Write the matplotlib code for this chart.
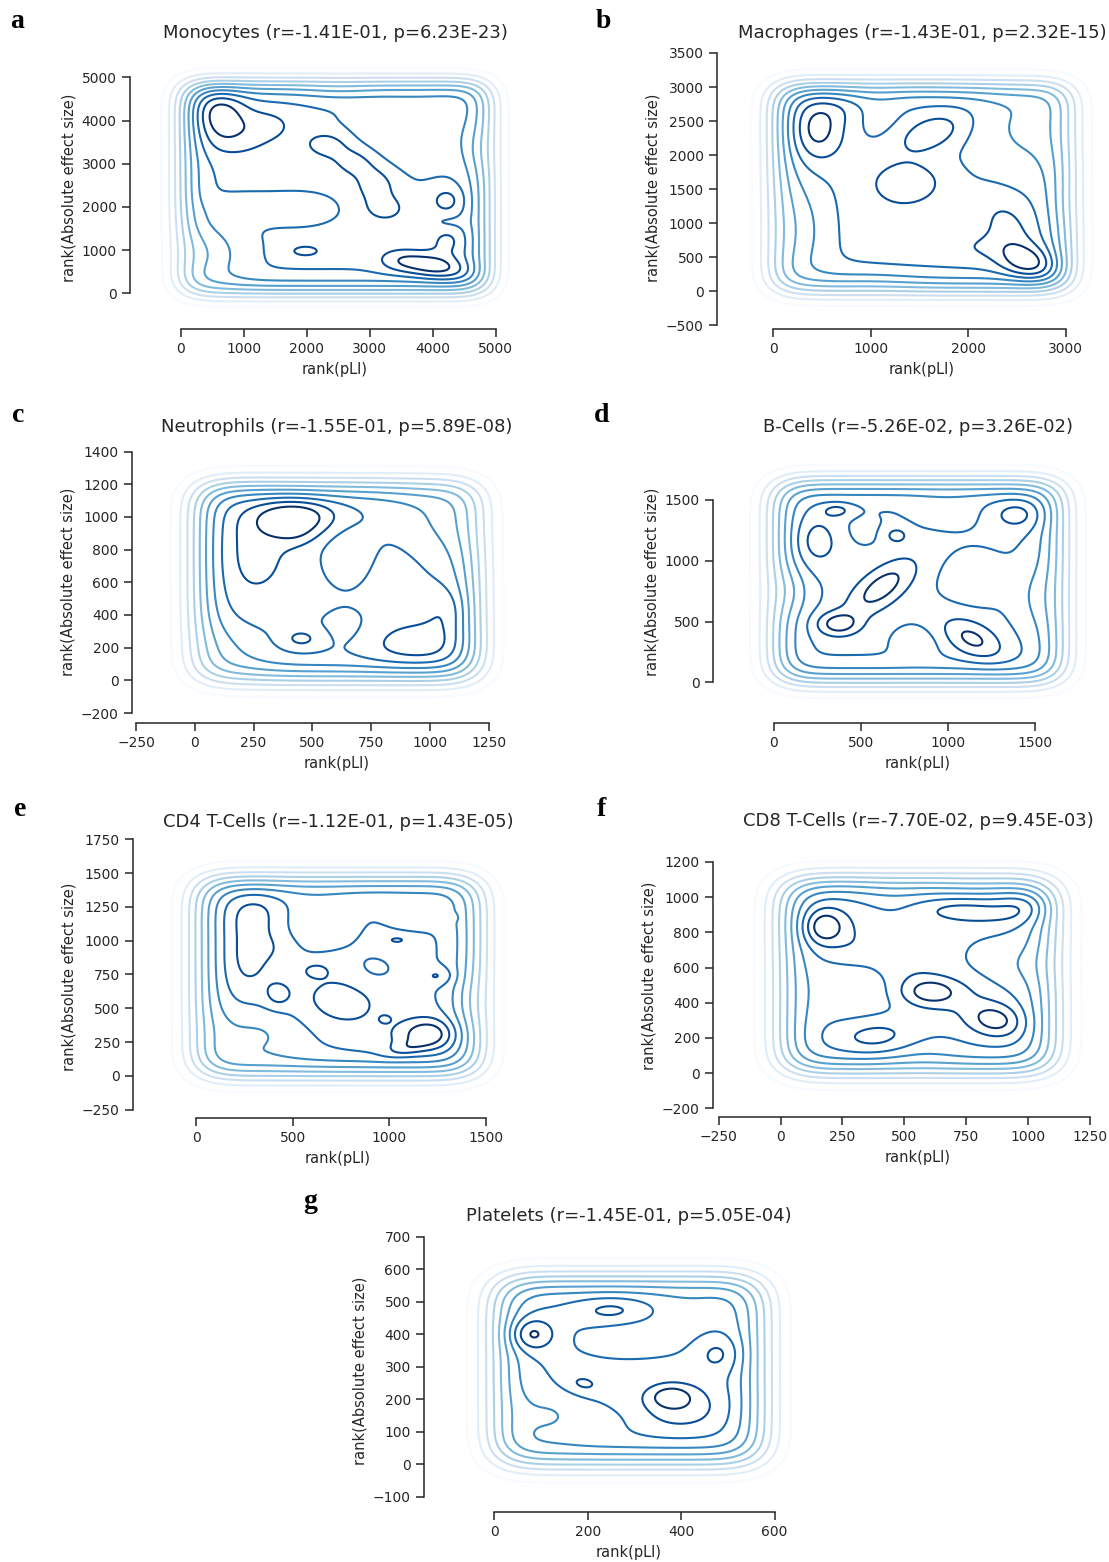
import math
import numpy as np
import matplotlib
matplotlib.use("Agg")
import matplotlib.pyplot as plt

# ---------------------------------------------------------------------------
# Panel metadata
# ---------------------------------------------------------------------------
PANEL_LETTERS = ["a", "b", "c", "d", "e", "f", "g"]
CELL_TYPES = ["Monocytes", "Macrophages", "Neutrophils", "B-Cells",
              "CD4 T-Cells", "CD8 T-Cells", "Platelets"]
R_VALUES = ["-1.41E-01", "-1.43E-01", "-1.55E-01", "-5.26E-02",
            "-1.12E-01", "-7.70E-02", "-1.45E-01"]
P_VALUES = ["6.23E-23", "2.32E-15", "5.89E-08", "3.26E-02",
            "1.43E-05", "9.45E-03", "5.05E-04"]

# number of ranked genes and per-axis KDE bandwidths
N_GENES = [4900, 3050, 1210, 1660, 1470, 1110, 577]
BW_X = [269, 192, 89, 116, 109, 91, 50]
BW_Y = [275, 184, 87, 111, 104, 83, 49]

X_TICKS = [
    [0, 1000, 2000, 3000, 4000, 5000],
    [0, 1000, 2000, 3000],
    [-250, 0, 250, 500, 750, 1000, 1250],
    [0, 500, 1000, 1500],
    [0, 500, 1000, 1500],
    [-250, 0, 250, 500, 750, 1000, 1250],
    [0, 200, 400, 600],
]
Y_TICKS = [
    [0, 1000, 2000, 3000, 4000, 5000],
    [-500, 0, 500, 1000, 1500, 2000, 2500, 3000, 3500],
    [-200, 0, 200, 400, 600, 800, 1000, 1200, 1400],
    [0, 500, 1000, 1500],
    [-250, 0, 250, 500, 750, 1000, 1250, 1500, 1750],
    [-200, 0, 200, 400, 600, 800, 1000, 1200],
    [-100, 0, 100, 200, 300, 400, 500, 600, 700],
]

# Local density modes / troughs of each joint rank distribution:
# (rank pLI, rank effect, spread x, spread y, angle deg, relative amplitude)
MONO_MODES = [
    (600, 4150, 300, 420, 0, 0.30), (1350, 3900, 350, 280, 0, 0.13),
    (900, 3500, 400, 300, 0, 0.10), (4000, 630, 420, 200, -15, 0.30),
    (4250, 1200, 220, 250, 0, 0.13), (3450, 750, 250, 200, 0, 0.10),
    (2300, 3450, 250, 220, 0, 0.16), (2750, 3050, 280, 250, -40, 0.16),
    (3100, 2500, 240, 300, 0, 0.16), (3250, 1950, 240, 220, 0, 0.14),
    (1980, 980, 220, 120, 0, 0.14), (4230, 2150, 190, 230, 0, 0.15),
    (4250, 1650, 200, 120, 0, -0.06),
    (3700, 3700, 700, 600, 0, -0.12), (350, 900, 450, 550, 0, -0.22),
    (1100, 1950, 450, 220, 0, -0.10), (1900, 1950, 350, 220, 0, -0.10),
    (4700, 3300, 200, 400, 0, -0.08), (2500, 4700, 400, 200, 0, -0.06),
]
MACRO_MODES = [
    (440, 2380, 200, 330, 0, 0.28), (700, 2700, 200, 180, 0, 0.06),
    (1630, 2330, 280, 170, 35, 0.19), (1380, 1600, 230, 200, 0, 0.18),
    (1200, 1100, 400, 600, 0, 0.05), (2630, 420, 230, 170, -30, 0.30),
    (2400, 950, 180, 330, 15, 0.14), (2100, 650, 250, 150, 0, 0.08),
    (250, 900, 250, 600, 0, -0.17), (2650, 2400, 450, 550, 0, -0.16),
    (1050, 2600, 200, 300, 0, -0.07), (1000, 150, 400, 200, 0, -0.08),
    (3000, 1300, 150, 300, 0, -0.06),
]
NEUTRO_MODES = [
    (410, 990, 110, 85, 0, 0.28), (430, 890, 60, 50, 0, 0.05),
    (250, 780, 130, 240, 0, 0.14), (500, 1020, 120, 80, 0, 0.08),
    (950, 220, 160, 100, 0, 0.18), (1080, 430, 70, 100, 0, 0.12),
    (455, 255, 60, 45, 0, 0.14), (850, 700, 100, 150, 0, 0.04),
    (650, 780, 80, 130, 0, -0.10), (1080, 1000, 180, 200, 0, -0.15),
    (100, 150, 150, 150, 0, -0.15), (650, 300, 100, 100, 0, -0.06),
]
BCELL_MODES = [
    (365, 1415, 60, 40, 0, 0.15), (240, 1160, 100, 150, 0, 0.17),
    (705, 1210, 50, 50, 0, 0.15), (1405, 1385, 110, 90, 0, 0.17),
    (620, 780, 200, 90, 52, 0.28), (370, 480, 90, 70, 0, 0.26),
    (1140, 360, 150, 90, -45, 0.25), (80, 750, 100, 150, 0, -0.14),
    (1150, 850, 130, 150, 0, -0.10), (830, 330, 100, 100, 0, -0.08),
    (1000, 1400, 150, 100, 0, -0.08), (500, 1250, 100, 100, 0, -0.05),
    (1500, 700, 100, 200, 0, -0.10),
]
CD4_MODES = [
    (1210, 310, 100, 80, 0, 0.28), (1080, 200, 80, 40, 20, 0.12),
    (1100, 280, 180, 120, 0, 0.06), (300, 1200, 120, 150, 0, 0.15),
    (260, 850, 100, 180, 0, 0.13), (400, 950, 80, 80, 0, 0.05),
    (750, 560, 160, 150, 0, 0.16), (425, 600, 50, 70, 0, 0.14),
    (1040, 1005, 50, 25, 0, 0.12), (1255, 740, 60, 45, 0, 0.13),
    (1325, 1172, 20, 20, 0, 0.10), (979, 419, 20, 20, 0, 0.10),
    (620, 780, 50, 40, 0, 0.12), (600, 1150, 150, 150, 0, -0.10),
    (300, 300, 200, 150, 0, -0.15), (1150, 1200, 120, 80, 0, -0.08),
    (900, 750, 100, 100, 0, -0.06), (1420, 550, 80, 150, 0, -0.10),
]
CD8_MODES = [
    (170, 830, 60, 70, 0, 0.28), (200, 850, 150, 150, 0, 0.08),
    (300, 700, 70, 80, 0, 0.06), (600, 462, 85, 60, 0, 0.27),
    (870, 300, 80, 65, -20, 0.27), (390, 205, 120, 75, 0, 0.18),
    (700, 930, 120, 50, 0, 0.12), (1000, 950, 80, 60, 0, 0.14),
    (850, 900, 120, 50, 0, 0.09), (500, 620, 100, 100, 0, 0.08),
    (750, 420, 100, 100, 0, 0.08), (300, 480, 130, 150, 0, -0.12),
    (950, 620, 130, 100, 0, -0.10), (550, 130, 120, 80, 0, -0.08),
    (800, 1080, 150, 50, 0, -0.06), (450, 1000, 100, 100, 0, -0.05),
]
PLT_MODES = [
    (76, 400, 35, 35, 0, 0.30), (250, 476, 55, 30, 0, 0.15),
    (483, 340, 35, 40, 0, 0.15), (190, 248, 30, 22, -20, 0.13),
    (378, 208, 28, 22, 0, 0.22), (400, 170, 60, 50, 0, 0.12),
    (380, 200, 100, 60, 0, 0.06), (300, 390, 80, 40, 0, -0.10),
    (120, 150, 60, 60, 0, -0.14), (420, 470, 60, 50, 0, -0.08),
    (250, 140, 50, 40, 0, -0.05),
]
MODES = [MONO_MODES, MACRO_MODES, NEUTRO_MODES, BCELL_MODES,
         CD4_MODES, CD8_MODES, PLT_MODES]

# ---------------------------------------------------------------------------
# Figure layout (pixels): lower-left corner of each axes box, and letter spots
# ---------------------------------------------------------------------------
W, H, DPI = 1109, 1562, 100
AX_W, AX_H = 410, 283
AX_LEFT = [130, 717, 132, 713, 133, 713, 424]
AX_BOTTOM = [329, 329, 723, 723, 1118, 1117, 1512]
LETTER_XY = [(10, 28), (596, 28), (12, 422), (594, 422),
             (14, 816), (597, 816), (303, 1208)]

N_LEVELS = 10
LEVEL_STEP = 0.12
PLATEAU = 0.98

erf = np.vectorize(math.erf)


def edge_profile(t, n, h):
    """Uniform rank density on [0, n] smoothed by a Gaussian kernel."""
    return 0.5 * (erf((n - t) / (math.sqrt(2) * h)) + erf(t / (math.sqrt(2) * h)))


def mode_field(X, Y, modes):
    Z = np.zeros_like(X)
    for cx, cy, sx, sy, ang, amp in modes:
        a = np.deg2rad(ang)
        dx, dy = X - cx, Y - cy
        u = dx * np.cos(a) + dy * np.sin(a)
        v = -dx * np.sin(a) + dy * np.cos(a)
        Z += amp * np.exp(-0.5 * ((u / sx) ** 2 + (v / sy) ** 2))
    return Z


plt.rcParams.update({
    "font.family": ["DejaVu Sans"],
    "axes.edgecolor": ".15",
    "axes.linewidth": 1.1,
    "xtick.color": ".15",
    "ytick.color": ".15",
    "xtick.labelcolor": ".15",
    "ytick.labelcolor": ".15",
    "xtick.major.size": 6,
    "ytick.major.size": 6,
    "xtick.major.width": 1.1,
    "ytick.major.width": 1.1,
    "xtick.labelsize": 10,
    "ytick.labelsize": 10,
    "axes.labelsize": 10.5,
    "axes.labelcolor": ".15",
    "axes.titlesize": 13,
    "text.color": ".15",
})

fig = plt.figure(figsize=(W / DPI, H / DPI), dpi=DPI)
levels = LEVEL_STEP * np.arange(1, N_LEVELS + 1)

for i in range(7):
    n, hx, hy = N_GENES[i], BW_X[i], BW_Y[i]
    xlim = (-3 * hx, n + 3 * hx)
    ylim = (-3 * hy, n + 3 * hy)

    left = AX_LEFT[i] / W
    bottom = 1 - AX_BOTTOM[i] / H
    ax = fig.add_axes([left, bottom, AX_W / W, AX_H / H])

    gx = np.linspace(xlim[0], xlim[1], 320)
    gy = np.linspace(ylim[0], ylim[1], 320)
    X, Y = np.meshgrid(gx, gy)
    base = np.outer(edge_profile(gy, n, hy), edge_profile(gx, n, hx))
    Z = base * (PLATEAU + mode_field(X, Y, MODES[i]))

    ax.contour(X, Y, Z, levels=levels, cmap="Blues", linewidths=1.5)

    ax.set_xlim(*xlim)
    ax.set_ylim(*ylim)
    ax.set_xticks(X_TICKS[i])
    ax.set_yticks(Y_TICKS[i])
    ax.set_xticklabels([f"{t}".replace("-", "\u2212") for t in X_TICKS[i]])
    ax.set_yticklabels([f"{t}".replace("-", "\u2212") for t in Y_TICKS[i]])
    for side in ("top", "right"):
        ax.spines[side].set_visible(False)
    ax.spines["bottom"].set_bounds(X_TICKS[i][0], X_TICKS[i][-1])
    ax.spines["left"].set_bounds(Y_TICKS[i][0], Y_TICKS[i][-1])

    ax.set_xlabel("rank(pLI)")
    ax.set_ylabel("rank(Absolute effect size)")
    ax.set_title(f"{CELL_TYPES[i]} (r={R_VALUES[i]}, p={P_VALUES[i]})",
                 color=".15")

    lx, ly = LETTER_XY[i]
    fig.text(lx / W, 1 - ly / H, PANEL_LETTERS[i], ha="left", va="baseline",
             fontsize=20, fontweight="bold", family="Liberation Serif",
             color="black")

fig.savefig("out.png", dpi=DPI)
